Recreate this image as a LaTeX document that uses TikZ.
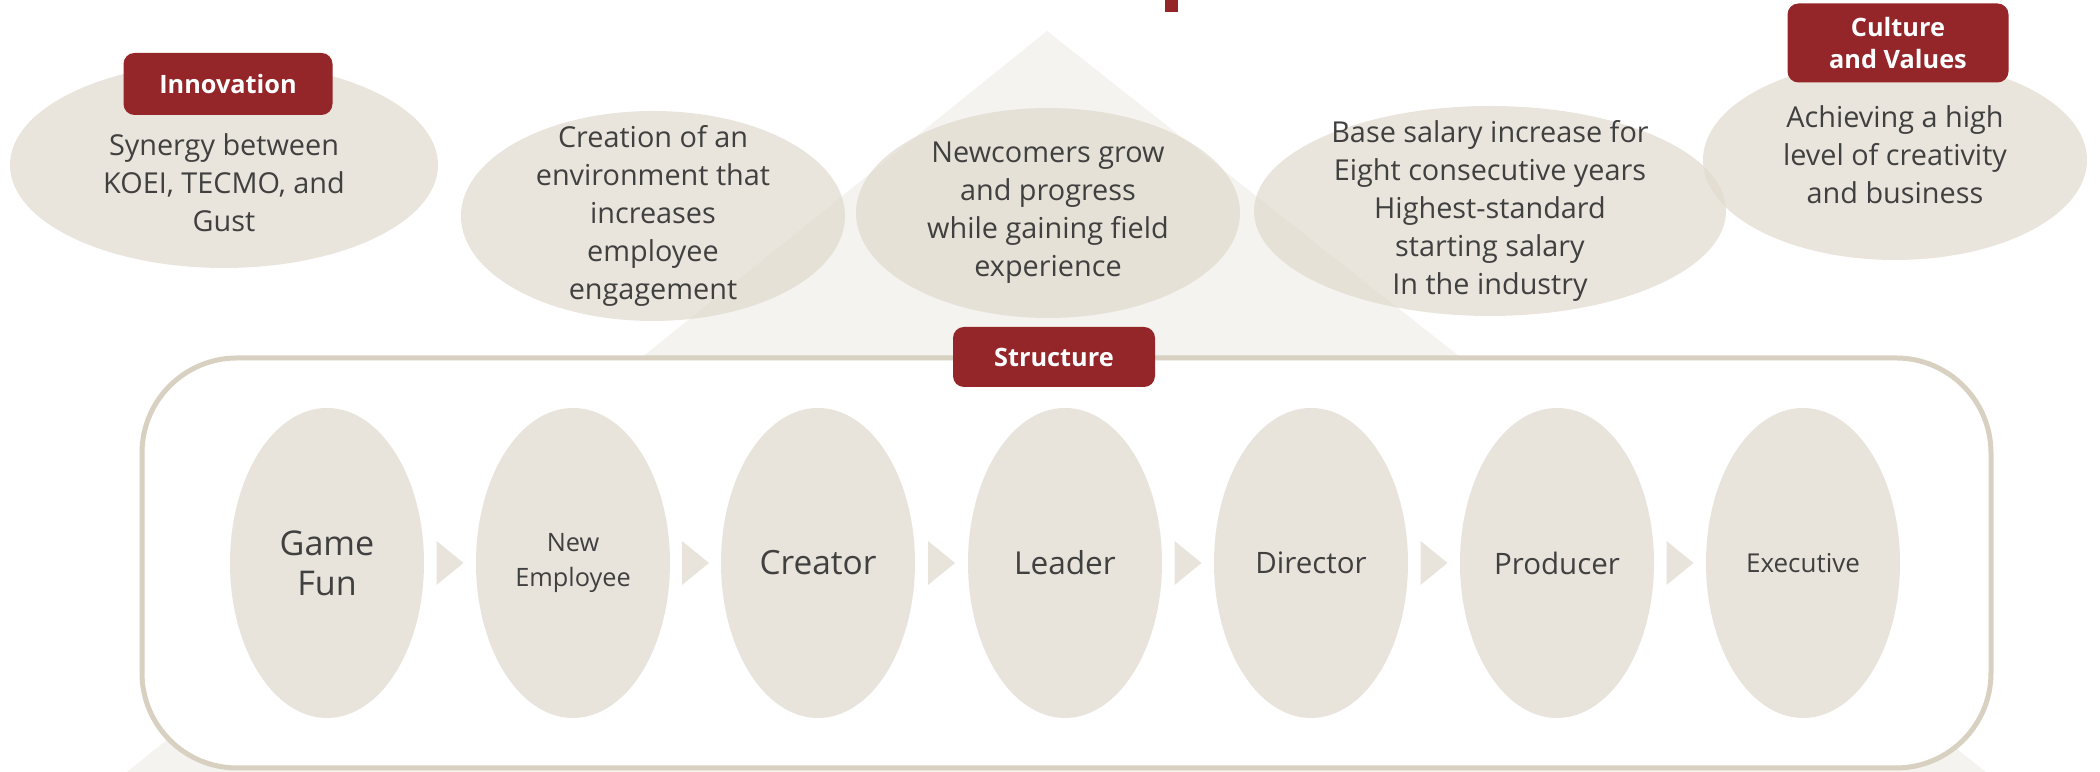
\documentclass[tikz,border=0pt]{standalone}
\usepackage{fontspec}
\setmainfont{Open Sans}
\definecolor{kred}{HTML}{942529}
\definecolor{kband}{HTML}{F4F3EF}
\definecolor{kbeige}{HTML}{E0DACE}
\definecolor{kstep}{HTML}{E8E4DC}
\definecolor{kline}{HTML}{D8D0C0}
\definecolor{ktext}{HTML}{404040}
\usetikzlibrary{calc,shapes.geometric}

\begin{document}
\begin{tikzpicture}[
  goal/.style={ellipse,fill=kbeige,fill opacity=0.7,inner sep=0pt},
  goaltext/.style={align=center,text=ktext,inner sep=0pt,
    font=\fontsize{8.2}{10.8}\selectfont},
  tag/.style={fill=kred,text=white,rounded corners=0.11cm,align=center,
    inner sep=0pt,font=\bfseries\fontsize{7.2}{9.1}\selectfont},
  stage/.style={ellipse,fill=kstep,text=ktext,align=center,inner sep=0pt,
    minimum width=1.94cm,minimum height=3.1cm},
  chev/.style={fill=kstep}]
  \useasboundingbox (0,0) rectangle (21,7.72);
  \fill[kband] (1.27,0) -- (10.47,7.41) -- (19.86,0) -- cycle;
  \fill[kred] (11.65,7.60) rectangle (11.78,7.72);

  \node[goal,minimum width=4.28cm,minimum height=2.06cm] (inno) at (2.24,6.07) {};
  \node[goal,minimum width=3.84cm,minimum height=2.10cm] (engage) at (6.53,5.56) {};
  \node[goal,minimum width=3.84cm,minimum height=2.10cm] (grow) at (10.48,5.59) {};
  \node[goal,minimum width=4.72cm,minimum height=2.10cm] (salary) at (14.90,5.61) {};
  \node[goal,minimum width=3.84cm,minimum height=2.00cm] (culture) at (18.95,6.12) {};
  \node[goaltext] (innotext) at ([yshift=-0.18cm]inno.center)
    {Synergy between\\KOEI, TECMO, and\\Gust};
  \node[goaltext] (engagetext) at (engage) {Creation of an\\environment that\\increases\\employee\\engagement};
  \node[goaltext] (growtext) at (grow) {Newcomers grow\\and progress\\while gaining field\\experience};
  \node[goaltext] (salarytext) at (salary) {Base salary increase for\\Eight consecutive years\\Highest-standard\\starting salary\\In the industry};
  \node[goaltext] (culturetext) at ([yshift=0.05cm]culture.center)
    {Achieving a high\\level of creativity\\and business};
  \node[tag,minimum width=2.09cm,minimum height=0.62cm] (innotag) at (2.28,6.88) {Innovation};
  \node[tag,minimum width=2.21cm,minimum height=0.79cm] (culturetag) at (18.98,7.29) {Culture\\and Values};

  \draw[kline,line width=0.05cm,fill=white,rounded corners=0.95cm] (1.42,0.04) rectangle (19.91,4.14);
  \node[tag,minimum width=2.02cm,minimum height=0.60cm] (structtag) at (10.54,4.15) {Structure};

  \node[stage,font=\fontsize{9.7}{11.4}\selectfont] (fun) at (3.27,2.09) {Game\\Fun};
  \node[stage,font=\fontsize{7.2}{10.2}\selectfont] (newemp) at (5.73,2.09) {New\\Employee};
  \node[stage,font=\fontsize{9.5}{11.4}\selectfont] (creator) at (8.18,2.09) {Creator};
  \node[stage,font=\fontsize{9.0}{11.4}\selectfont] (leader) at (10.65,2.09) {Leader};
  \node[stage,font=\fontsize{8.4}{11.4}\selectfont] (director) at (13.11,2.09) {Director};
  \node[stage,font=\fontsize{8.4}{11.4}\selectfont] (producer) at (15.57,2.09) {Producer};
  \node[stage,font=\fontsize{7.4}{11.4}\selectfont] (exec) at (18.03,2.09) {Executive};
  \fill[chev] ($(fun)!0.5!(newemp)$) +(-0.135,0.22) -- +(0.135,0) -- +(-0.135,-0.22) -- cycle;
  \fill[chev] ($(newemp)!0.5!(creator)$) +(-0.135,0.22) -- +(0.135,0) -- +(-0.135,-0.22) -- cycle;
  \fill[chev] ($(creator)!0.5!(leader)$) +(-0.135,0.22) -- +(0.135,0) -- +(-0.135,-0.22) -- cycle;
  \fill[chev] ($(leader)!0.5!(director)$) +(-0.135,0.22) -- +(0.135,0) -- +(-0.135,-0.22) -- cycle;
  \fill[chev] ($(director)!0.5!(producer)$) +(-0.135,0.22) -- +(0.135,0) -- +(-0.135,-0.22) -- cycle;
  \fill[chev] ($(producer)!0.5!(exec)$) +(-0.135,0.22) -- +(0.135,0) -- +(-0.135,-0.22) -- cycle;
\end{tikzpicture}
\end{document}
